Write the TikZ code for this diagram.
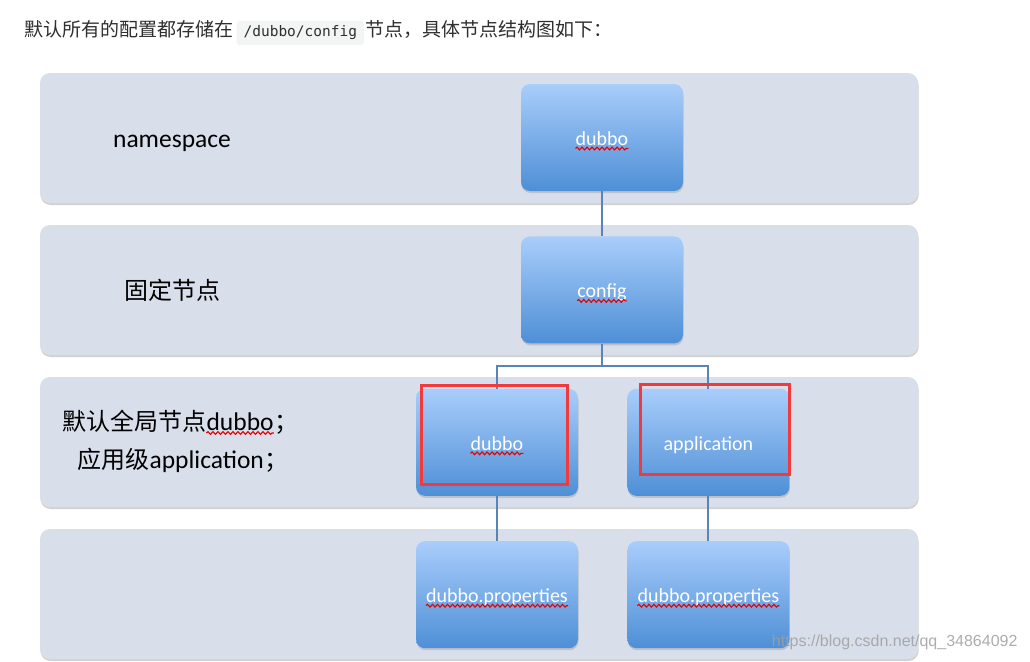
\documentclass[tikz,border=0pt]{standalone}
\usepackage{fontspec}
\setmainfont{Carlito}
\newfontfamily\cjk{Noto Sans CJK SC}
\newfontfamily\mono{DejaVu Sans Mono}
\newfontfamily\wmark{Liberation Sans}
\usetikzlibrary{positioning, shadows, decorations.pathmorphing}
\definecolor{bandfill}{HTML}{D9DEEB}
\definecolor{boxtop}{HTML}{A9CDFB}
\definecolor{boxbot}{HTML}{4E8FD6}
\definecolor{linkcol}{HTML}{5A84B8}
\definecolor{markred}{HTML}{F03A3C}
\definecolor{codebg}{HTML}{F3F4F4}
\definecolor{headgray}{HTML}{2F2F2F}
\newcommand{\bandsize}{\fontsize{24}{28}\selectfont}
\newcommand{\latinsize}{\fontsize{25.5}{28}\selectfont}
\tikzstyle{Band} = [fill=bandfill, rounded corners=10pt,
minimum width=878pt, minimum height=130pt,
drop shadow={opacity=0.35, shadow xshift=0.5pt, shadow yshift=-2pt}]
\tikzstyle{Box} = [rounded corners=9pt, top color=boxtop, bottom color=boxbot,
minimum width=162pt, minimum height=107pt,
drop shadow={opacity=0.3, shadow xshift=0.5pt, shadow yshift=-2pt}]
\tikzstyle{BoxText} = [text=white, inner sep=0pt, anchor=base,
font=\fontsize{20}{24}\selectfont]
\tikzstyle{Head} = [inner sep=0pt, text=headgray, font=\cjk\fontsize{19}{22}\selectfont]
\tikzstyle{Code} = [fill=codebg, rounded corners=3pt, inner xsep=7pt, inner ysep=5pt,
text=headgray, font=\mono\fontsize{14.5}{18}\selectfont]
\tikzstyle{Link} = [linkcol, line width=2pt]
\tikzstyle{Mark} = [draw=markred, line width=3pt]
\tikzstyle{Squiggle} = [red!90!black, line width=1.1pt, decorate,
decoration={snake, amplitude=1.4pt, segment length=5pt}]

\begin{document}
\begin{tikzpicture}[x=1pt, y=-1pt]
    \useasboundingbox (0,0) rectangle (1030,661);
    \fill[white] (0,0) rectangle (1030,661);

    % heading line
    \node[Head, anchor=base west] (h1) at (24,37) {默认所有的配置都存储在};
    \node[Code, anchor=base west] (h2) at ([xshift=3pt]h1.base east) {/dubbo/config};
    \node[Head, anchor=base west] (h3) at ([xshift=1pt]h2.base east) {节点，具体节点结构图如下：};

    % bands
    \foreach \i/\y in {1/138,2/290,3/442,4/594}
        \node[Band] (b\i) at (479,\y) {};

    % tree nodes
    \node[Box] (1) at (602,137.5) {};
    \node[Box, below=45pt of 1] (2) {};
    \node[Box, below=45pt of 2, xshift=-105pt] (3) {};
    \node[Box, right=49pt of 3] (4) {};
    \node[Box, below=45pt of 3] (5) {};
    \node[Box, below=45pt of 4] (6) {};

    \foreach \i/\t in {1/dubbo,2/config,3/dubbo,4/application,
                       5/dubbo.properties,6/dubbo.properties}
        \node[BoxText] (\i t) at ([yshift=-8pt]\i.center) {\t};

    \coordinate (fork) at ([yshift=-22pt]2.south);
    \draw[Link] (1.south) -- (2.north);
    \draw[Link] (2.south) -- (fork);
    \draw[Link] (fork) -| (3.north);
    \draw[Link] (fork) -| (4.north);
    \draw[Link] (3.south) -- (5.north);
    \draw[Link] (4.south) -- (6.north);

    % band labels
    \node[font=\latinsize, inner sep=0pt, anchor=base] (l1) at (172,147) {namespace};
    \node[font=\cjk\bandsize] (l2) at (172,290) {固定节点};
    \node[font=\cjk\bandsize, inner sep=0pt, anchor=base west] (l3a) at (62,430) {默认全局节点};
    \node[font=\latinsize, inner sep=0pt, anchor=base west] (l3b) at (l3a.base east) {dubbo};
    \node[font=\cjk\bandsize, inner sep=0pt, anchor=base west] (l3c) at (l3b.base east) {；};
    \node[font=\cjk\bandsize, inner sep=0pt, anchor=base west] (l4a) at (77,468) {应用级};
    \node[font=\latinsize, inner sep=0pt, anchor=base west] (l4b) at (l4a.base east) {application};
    \node[font=\cjk\bandsize, inner sep=0pt, anchor=base west] (l4c) at (l4b.base east) {；};

    \foreach \t in {1t,2t,3t,5t,6t,l3b}
        \draw[Squiggle] ([yshift=-3pt]\t.base west) -- ([yshift=-3pt]\t.base east);

    % highlights
    \draw[Mark] (421,385) rectangle (567,484);
    \draw[Mark] (640,384) rectangle (789,474);

    \node[anchor=east, text=gray!75, opacity=0.85, font=\wmark\fontsize{16}{18}\selectfont]
        (wm) at (1021,642) {https://blog.csdn.net/qq\_34864092};
\end{tikzpicture}
\end{document}
